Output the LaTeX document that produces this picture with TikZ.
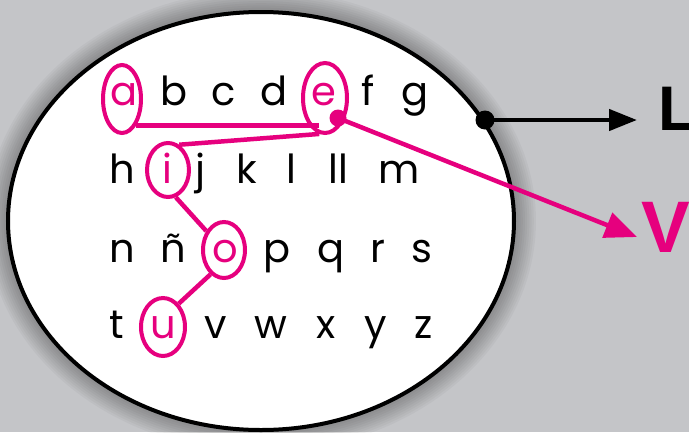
\documentclass[tikz,border=0pt]{standalone}
\usepackage{fontspec}
\setmainfont{Poppins}
\newfontfamily\labfont{Liberation Sans}
\usetikzlibrary{arrows.meta,shapes.geometric}
\definecolor{bgc}{HTML}{C4C5C8}
\definecolor{pink}{HTML}{E6007E}
\begin{document}
\begin{tikzpicture}[x=1pt,y=-1pt,
  let/.style={inner sep=0pt, anchor=base, font=\fontsize{40}{40}\selectfont},
  vow/.style={let, text=pink},
  ring/.style={draw=pink, line width=4pt, ellipse, inner sep=0pt},
  pinkline/.style={draw=pink, line width=4.5pt},
  blk/.style={draw=black, line width=4.5pt}]
\useasboundingbox (0,0) rectangle (689,432);
\fill[bgc] (0,0) rectangle (689,432);
% soft shadow around the big ellipse
\foreach \k in {1,...,10}{
  \fill[black, opacity=0.03] (261,221) ellipse ({253+2.2*\k} and {209+2.2*\k});
}
\filldraw[fill=white, draw=black, line width=4pt] (261,221) ellipse (253 and 209);
% letters row 1
\node[vow] (la) at (124,105) {a};
\node[let] (lb) at (174,105) {b};
\node[let] (lc) at (224,105) {c};
\node[let] (ld) at (274,105) {d};
\node[vow] (le) at (324,105) {e};
\node[let] (lf) at (368,105) {f};
\node[let] (lg) at (415,105) {g};
% row 2
\node[let] (lh) at (122,183) {h};
\node[vow] (li) at (167,183) {i};
\node[let] (lj) at (200,183) {j};
\node[let] (lk) at (247,183) {k};
\node[let] (ll) at (291,183) {l};
\node[let] (lll) at (338,183) {ll};
\node[let] (lm) at (399,183) {m};
% row 3
\node[let] (ln) at (122,262) {n};
\node[let] (lnn) at (173,262) {ñ};
\node[vow] (lo) at (225,262) {o};
\node[let] (lp) at (277,262) {p};
\node[let] (lq) at (331,262) {q};
\node[let] (lr) at (378,262) {r};
\node[let] (ls) at (422,262) {s};
% row 4
\node[let] (lt) at (117,338) {t};
\node[vow] (lu) at (163,338) {u};
\node[let] (lv) at (216,338) {v};
\node[let] (lw) at (271,338) {w};
\node[let] (lx) at (326,338) {x};
\node[let] (ly) at (376,338) {y};
\node[let] (lz) at (424,338) {z};
% vowel rings
\node[ring, minimum width=38pt, minimum height=68pt] (ra) at (122,99) {};
\node[ring, minimum width=44pt, minimum height=70pt] (re) at (325,98) {};
\node[ring, minimum width=42pt, minimum height=54pt] (ri) at (168,170) {};
\node[ring, minimum width=42pt, minimum height=56pt] (ro) at (224,250) {};
\node[ring, minimum width=44pt, minimum height=58pt] (ru) at (163,327) {};
% connectors between vowels
\draw[pinkline] (ra.-62) -- (ra.-62 -| re.-100);
\draw[pinkline] (re.-99) -- (ri.66);
\draw[pinkline] (ri.-74) -- (ro.133);
\draw[pinkline] (ro.-119) -- (ru.56);
% labels
\node[inner sep=0pt, anchor=base west, font=\labfont\bfseries\fontsize{63}{63}\selectfont] (L) at (658,130) {L};
\node[inner sep=0pt, anchor=base west, text=pink, font=\labfont\bfseries\fontsize{73}{73}\selectfont] (V) at (641,252) {V};
% dots and arrows
\coordinate (pd) at (338,118);
\coordinate (bd) at (485,120);
\coordinate (pt) at (637,237);
\coordinate (bt) at (637,120);
\draw[pinkline, -{Triangle[length=32pt,width=26pt]}] (pd) -- (pt);
\fill[pink] (pd) circle (8.5);
\draw[blk, -{Triangle[length=28pt,width=21pt]}] (bd) -- (bt);
\fill[black] (bd) circle (9.5);
\end{tikzpicture}
\end{document}
